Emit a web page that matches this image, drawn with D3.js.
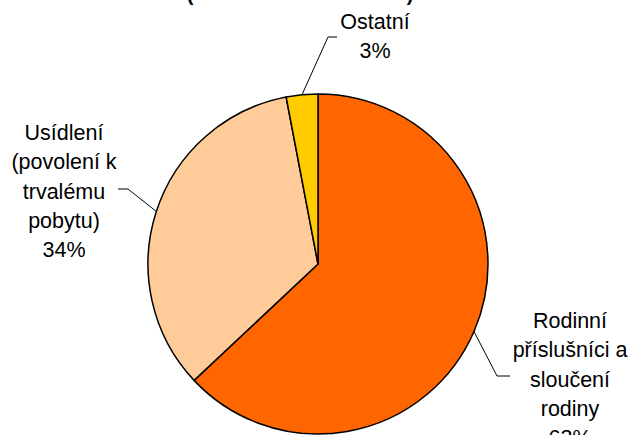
<!DOCTYPE html>
<html><head><meta charset="utf-8">
<script src="https://cdn.jsdelivr.net/npm/d3@7"></script>
<style>html,body{margin:0;padding:0;background:#fff;overflow:hidden}</style>
</head><body>
<svg id="c" width="630" height="435"></svg>
<script>
const categories = ["Rodinní příslušníci a sloučení rodiny", "Usídlení (povolení k trvalému pobytu)", "Ostatní"];
const labelLines = [["Rodinní","příslušníci a","sloučení","rodiny"],["Usídlení","(povolení k","trvalému","pobytu)"],["Ostatní"]];
const values = [63, 34, 3];
const colors = ["#FF6600", "#FFCC99", "#FFCC00"];

// layout (positions only)
const cx = 318, cy = 264, R = 170;
const labelPos = [{x:570, y:328}, {x:64, y:140}, {x:375, y:29}];
const leaderPts = [[[497,376],[510,376]], [[128,189],[118,189]], [[328,37],[337,37]]];
const lineH = 29.3;

const svg = d3.select("#c");
svg.append("rect").attr("width",630).attr("height",435).attr("fill","#fff");

// title (only bottom visible)
svg.append("text").attr("x",190).attr("y",1).attr("font-family","Liberation Sans, Arial").attr("font-weight","bold").attr("font-size",20).attr("text-anchor","middle").text("(");
svg.append("text").attr("x",410).attr("y",1).attr("font-family","Liberation Sans, Arial").attr("font-weight","bold").attr("font-size",20).attr("text-anchor","middle").text(")");

const pie = d3.pie().sort(null).value(d=>d)(values);
const arc = d3.arc().innerRadius(0).outerRadius(R);
const g = svg.append("g").attr("transform",`translate(${cx},${cy})`);
g.selectAll("path").data(pie).join("path")
  .attr("d",arc).attr("fill",(d,i)=>colors[i])
  .attr("stroke","#000").attr("stroke-width",1.5).attr("stroke-linejoin","round");

const total = d3.sum(values);
pie.forEach((d,i)=>{
  const a = (d.startAngle+d.endAngle)/2;
  const sx = cx + R*Math.sin(a), sy = cy - R*Math.cos(a);
  const pts = [[sx,sy], ...leaderPts[i]];
  svg.append("path").attr("d", d3.line()(pts)).attr("fill","none").attr("stroke","#000").attr("stroke-width",1);
  const t = svg.append("text").attr("font-family","Liberation Sans, Arial").attr("font-size",21.5)
    .attr("text-anchor","middle").attr("fill","#000");
  const lines = [...labelLines[i], Math.round(values[i]/total*100)+"%"];
  lines.forEach((l,j)=>{
    t.append("tspan").attr("x",labelPos[i].x).attr("y",labelPos[i].y + j*lineH).text(l);
  });
});
</script>
</body></html>
